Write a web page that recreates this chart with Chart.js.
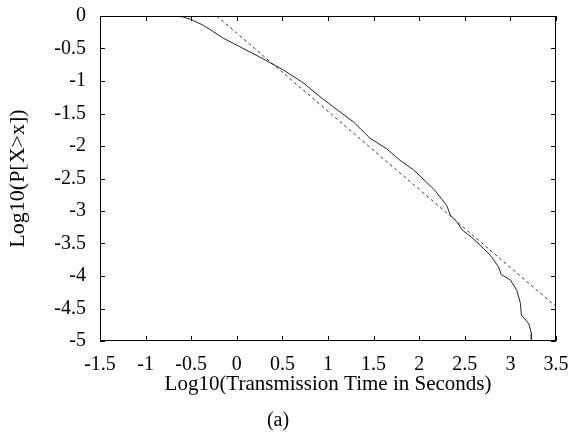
<!DOCTYPE html>
<html>
<head>
<meta charset="utf-8">
<script src="https://cdn.jsdelivr.net/npm/chart.js@4/dist/chart.umd.min.js"></script>
<style>
  body { margin: 0; background: #fff; }
  #wrap { width: 569px; height: 437px; }
</style>
</head>
<body>
<div id="wrap"><canvas id="ccdf" width="569" height="437"></canvas></div>
<script>
// empirical tail (log10 of transmission time vs log10 P[X>x])
const curveX = [-1.14, -0.8, -0.6, -0.51, -0.37, -0.15, 0.25, 0.51, 0.73, 0.91, 1.06, 1.28, 1.46, 1.64, 1.79, 1.94, 2.03, 2.17, 2.30, 2.34, 2.41, 2.47, 2.59, 2.78, 2.87, 2.90, 3.0, 3.07, 3.11, 3.12, 3.2, 3.23, 3.23];
const curveY = [0, 0, -0.01, -0.05, -0.14, -0.34, -0.63, -0.83, -1.03, -1.24, -1.40, -1.63, -1.88, -2.04, -2.22, -2.37, -2.49, -2.68, -2.91, -3.06, -3.16, -3.29, -3.42, -3.68, -3.86, -3.98, -4.06, -4.22, -4.42, -4.6, -4.73, -4.88, -5.0];

// fitted straight line (dashed)
const fitX = [-0.22, 3.5];
const fitY = [0, -4.47];

const xTicks = [-1.5, -1, -0.5, 0, 0.5, 1, 1.5, 2, 2.5, 3, 3.5];
const yTicks = [0, -0.5, -1, -1.5, -2, -2.5, -3, -3.5, -4, -4.5, -5];

const serif = 'Liberation Serif';
const toPoints = (xs, ys) => xs.map((x, i) => ({ x: x, y: ys[i] }));

// frame on all four sides plus short inward ticks
const frameTicks = {
    id: 'frameTicks',
    afterDraw(chart) {
        const { ctx, chartArea: a, scales } = chart;
        const len = 5;
        ctx.save();
        ctx.strokeStyle = '#000';
        ctx.lineWidth = 1;
        ctx.strokeRect(a.left + 0.5, a.top + 0.5, a.right - a.left - 1, a.bottom - a.top - 1);
        ctx.beginPath();
        xTicks.forEach(v => {
            const px = Math.round(scales.x.getPixelForValue(v)) + 0.5;
            ctx.moveTo(px, a.bottom); ctx.lineTo(px, a.bottom - len);
            ctx.moveTo(px, a.top); ctx.lineTo(px, a.top + len);
        });
        yTicks.forEach(v => {
            const py = Math.round(scales.y.getPixelForValue(v)) + 0.5;
            ctx.moveTo(a.left, py); ctx.lineTo(a.left + len, py);
            ctx.moveTo(a.right, py); ctx.lineTo(a.right - len, py);
        });
        ctx.stroke();
        ctx.restore();
    }
};

new Chart(document.getElementById('ccdf').getContext('2d'), {
    type: 'scatter',
    data: {
        datasets: [{
            data: toPoints(curveX, curveY),
            showLine: true,
            borderColor: '#222',
            borderWidth: 1,
            pointRadius: 0,
            tension: 0
        }, {
            data: toPoints(fitX, fitY),
            showLine: true,
            borderColor: '#333',
            borderWidth: 1,
            borderDash: [3, 3],
            pointRadius: 0
        }]
    },
    options: {
        responsive: false,
        animation: false,
        layout: { padding: { left: 0, top: 16, right: 13, bottom: 0 } },
        plugins: {
            legend: { display: false },
            tooltip: { enabled: false },
            title: {
                display: true,
                position: 'bottom',
                text: '(a)',
                color: '#000',
                font: { family: serif, size: 20, weight: 'normal' },
                padding: { top: 0, bottom: 4 }
            }
        },
        scales: {
            x: {
                type: 'linear',
                min: -1.5,
                max: 3.5,
                afterBuildTicks: s => { s.ticks = xTicks.map(v => ({ value: v })); },
                afterFit: s => { s.height = 68; s.paddingLeft = 0; s.paddingRight = 0; },
                grid: { display: false, drawTicks: false },
                border: { display: false },
                ticks: {
                    color: '#000',
                    padding: 12,
                    maxRotation: 0,
                    font: { family: serif, size: 20 },
                    callback: v => String(v)
                },
                title: {
                    display: true,
                    text: 'Log10(Transmission Time in Seconds)',
                    color: '#000',
                    font: { family: serif, size: 21 },
                    padding: { top: 0, bottom: 12 }
                }
            },
            y: {
                type: 'linear',
                min: -5,
                max: 0,
                afterBuildTicks: s => { s.ticks = yTicks.map(v => ({ value: v })); },
                afterFit: s => { s.width = 100; s.paddingTop = 0; s.paddingBottom = 0; },
                grid: { display: false, drawTicks: false },
                border: { display: false },
                ticks: {
                    color: '#000',
                    padding: 14,
                    font: { family: serif, size: 20 },
                    callback: v => String(v)
                },
                title: {
                    display: true,
                    text: 'Log10(P[X>x])',
                    color: '#000',
                    font: { family: serif, size: 22 },
                    padding: { top: 5, bottom: 0 }
                }
            }
        }
    },
    plugins: [frameTicks]
});
</script>
</body>
</html>
